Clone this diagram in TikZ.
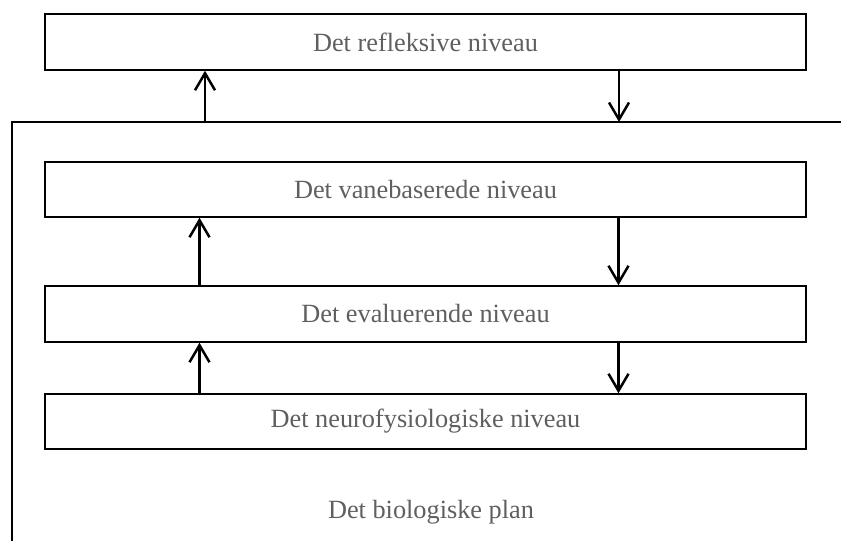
\documentclass[tikz,border=0pt]{standalone}
\usepackage{fontspec}
\setmainfont{Liberation Serif}
\usetikzlibrary{arrows.meta}
\definecolor{txtgray}{RGB}{95,95,95}
\begin{document}
\begin{tikzpicture}[x=1pt,y=-1pt,
  levelbox/.style={draw=black,line width=1.5pt,minimum width=761pt,inner sep=0pt,
    text=txtgray,font=\fontsize{26.3}{30}\selectfont},
  flow/.style={line width=2.5pt,-{Straight Barb[length=17pt,width=20pt]}},
  planlabel/.style={text=txtgray,font=\fontsize{26.3}{30}\selectfont}]
\useasboundingbox (0,0) rectangle (841,541);

% the biological plane: open frame
\draw[line width=1.4pt] (12,541) -- (12,122) -- (841,122);
\coordinate (upA) at (205,122);
\coordinate (downA) at (619,122);

% levels
\node[levelbox,minimum height=56pt] (refl) at (425.5,42) {Det refleksive niveau};
\node[levelbox,minimum height=55pt] (vane) at (425.5,189.5) {Det vanebaserede niveau};
\node[levelbox,minimum height=56pt] (eval) at (425.5,314) {Det evaluerende niveau};
\node[levelbox,minimum height=55pt] (neuro) at (425.5,421.5) {Det neurofysiologiske niveau};

\node[planlabel] (plan) at (431,512) {Det biologiske plan};

% connectors between the levels
\draw[flow] (upA) -- (upA |- refl.south);
\draw[flow] (refl.south -| downA) -- (downA);
\draw[flow] ([xshift=-226pt]vane.south |- eval.north) -- ([xshift=-226pt]vane.south);
\draw[flow] ([xshift=193pt]vane.south) -- ([xshift=193pt]eval.north);
\draw[flow] ([xshift=-226pt]neuro.north) -- ([xshift=-226pt]eval.south);
\draw[flow] ([xshift=193pt]eval.south) -- ([xshift=193pt]neuro.north);
\end{tikzpicture}
\end{document}
